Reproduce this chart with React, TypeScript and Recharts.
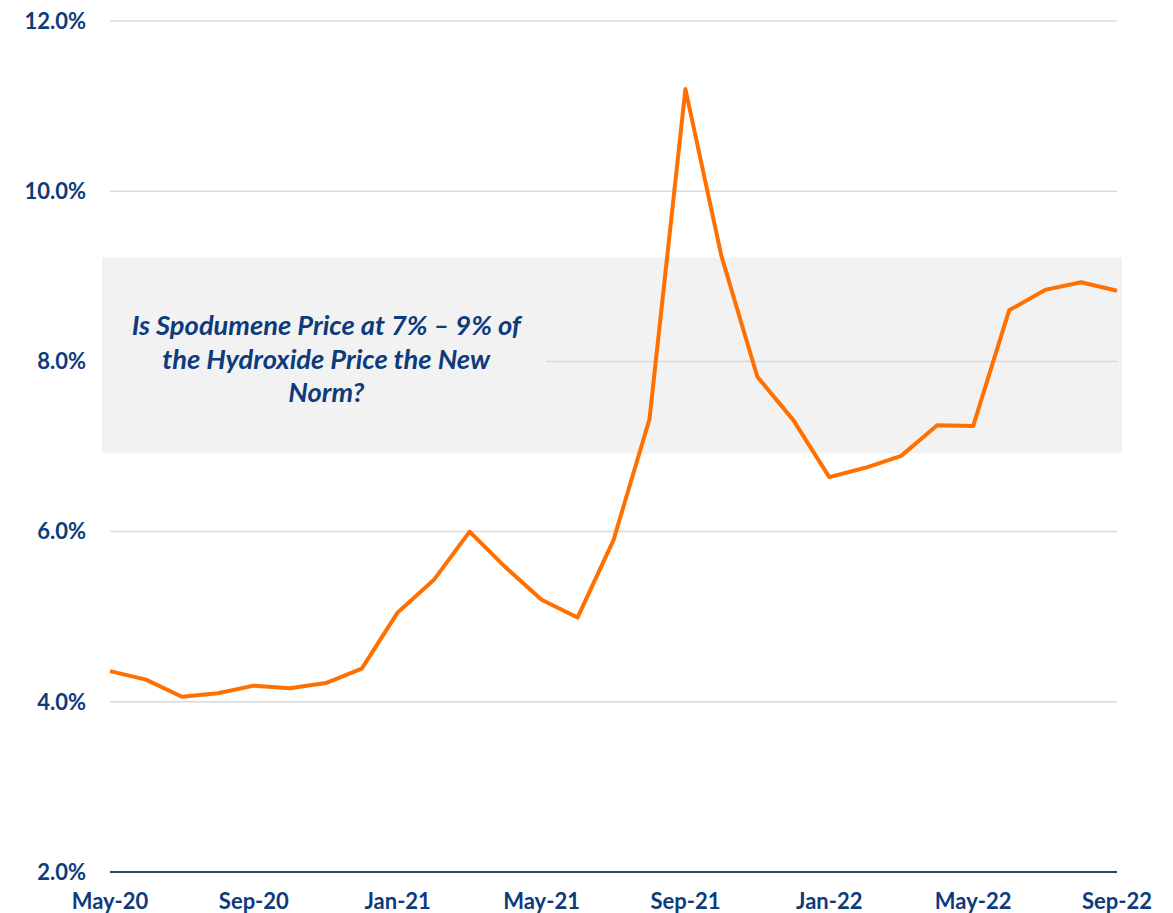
import React from 'react';
import { LineChart, Line, XAxis, YAxis, CartesianGrid, ReferenceArea } from 'recharts';

const months = [
  'May-20', 'Jun-20', 'Jul-20', 'Aug-20', 'Sep-20', 'Oct-20', 'Nov-20', 'Dec-20',
  'Jan-21', 'Feb-21', 'Mar-21', 'Apr-21', 'May-21', 'Jun-21', 'Jul-21', 'Aug-21',
  'Sep-21', 'Oct-21', 'Nov-21', 'Dec-21', 'Jan-22', 'Feb-22', 'Mar-22', 'Apr-22',
  'May-22', 'Jun-22', 'Jul-22', 'Aug-22', 'Sep-22',
];

const ratio = [
  4.36, 4.26, 4.06, 4.1, 4.19, 4.16, 4.22, 4.39,
  5.05, 5.43, 6.0, 5.58, 5.2, 4.99, 5.9, 7.32,
  11.2, 9.24, 7.82, 7.31, 6.64, 6.75, 6.89, 7.25,
  7.24, 8.6, 8.84, 8.93, 8.83,
];

const yTicks = [2, 4, 6, 8, 10, 12];
const bandRange = [6.918, 9.222];
const noteLines = ['Is Spodumene Price at 7% \u2013 9% of', 'the Hydroxide Price the New', 'Norm?'];

const data = months.map((m, i) => ({ month: m, value: ratio[i] }));

const NAVY = '#0e3b7c';
const FONT = 'Lato, "DejaVu Sans", sans-serif';

const BandShape = (props: any) => {
  const { x, y, width, height } = props;
  return <rect x={x - 8} y={y} width={width + 13} height={height} fill="#f2f2f2" />;
};

const NoteShape = (props: any) => {
  const { x, y, width, height } = props;
  const cx = x - 8 + (width + 13) / 2;
  const cy = y + height / 2;
  return (
    <g>
      <rect x={x - 8} y={y} width={width + 13} height={height} fill="#f2f2f2" />
      {noteLines.map((t, i) => (
        <text
          key={i}
          x={cx + 2}
          y={cy - 26 + i * 33.5}
          textAnchor="middle"
          fontFamily={FONT}
          fontWeight="bold"
          fontStyle="italic"
          fontSize={27.3}
          fill={NAVY}
        >
          {t}
        </text>
      ))}
    </g>
  );
};

export default function App() {
  return (
    <div style={{ position: 'absolute', left: 0, top: 0, background: '#fff' }}>
      <LineChart width={1173} height={913} data={data} margin={{ top: 21, right: 56, bottom: 0, left: 0 }}>
        <ReferenceArea y1={bandRange[0]} y2={bandRange[1]} shape={BandShape} zIndex={-200} ifOverflow="visible" />
        <CartesianGrid horizontal vertical={false} stroke="#d9d9d9" strokeWidth={1.5} />
        <ReferenceArea
          x1="May-20"
          x2="May-21"
          y1={7.2}
          y2={8.8}
          shape={NoteShape}
          zIndex={-50}
          ifOverflow="visible"
        />
        <XAxis
          dataKey="month"
          interval={3}
          height={41}
          tickLine={false}
          tickSize={0}
          tickMargin={21}
          axisLine={{ stroke: '#1f4e79', strokeWidth: 2 }}
          tick={{ fill: NAVY, fontSize: 22, fontWeight: 'bold', fontFamily: FONT }}
        />
        <YAxis
          domain={[2, 12]}
          ticks={yTicks}
          width={110}
          axisLine={false}
          tickLine={false}
          tickSize={0}
          tickMargin={24}
          tickFormatter={(v: number) => v.toFixed(1) + '%'}
          tick={{ fill: NAVY, fontSize: 22, fontWeight: 'bold', fontFamily: FONT }}
        />
        <Line
          type="linear"
          dataKey="value"
          stroke="#ff7000"
          strokeWidth={4}
          strokeLinejoin="round"
          dot={false}
          activeDot={false}
          isAnimationActive={false}
        />
      </LineChart>
    </div>
  );
}
